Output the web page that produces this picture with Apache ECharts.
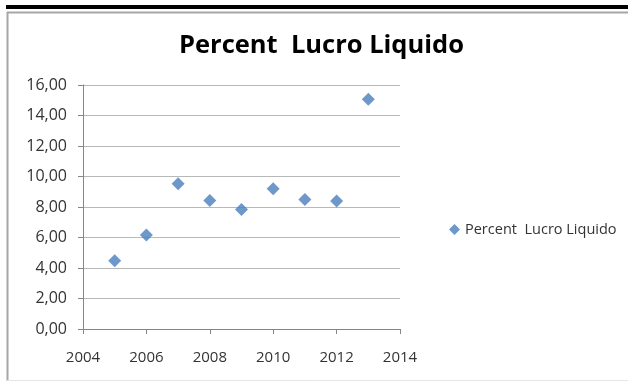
<!DOCTYPE html>
<html>
<head>
<meta charset="utf-8">
<script src="https://cdn.jsdelivr.net/npm/echarts@6/dist/echarts.min.js"></script>
<style>html,body{margin:0;padding:0;background:#fff}#c{width:628px;height:381px}</style>
</head>
<body>
<div id="c"></div>
<script>
const titleText = 'Percent  Lucro Liquido';
const seriesName = 'Percent  Lucro Liquido';
const years = [2005, 2006, 2007, 2008, 2009, 2010, 2011, 2012, 2013];
const values = [4.48, 6.16, 9.53, 8.42, 7.83, 9.20, 8.50, 8.39, 15.06];

const chart = echarts.init(document.getElementById('c'), null, {renderer: 'canvas'});
const font = 'Open Sans';
chart.setOption({
  animation: false,
  backgroundColor: '#fff',
  title: {
    text: titleText, left: 174, top: 28,
    textStyle: {fontFamily: font, fontSize: 25.5, fontWeight: 'bold', color: '#000'}
  },
  legend: {
    left: 444, top: 217, itemWidth: 11, itemHeight: 11, itemGap: 4,
    icon: 'diamond',
    textStyle: {fontFamily: font, fontSize: 14.5, color: '#333'},
    data: [seriesName]
  },
  graphic: [
    {type: 'rect', shape: {x: 6, y: 5, width: 622, height: 4}, style: {fill: '#000'}, silent: true},
    {type: 'line', shape: {x1: 7, y1: 12.5, x2: 628, y2: 12.5}, style: {stroke: '#a6a6a6', lineWidth: 2}, silent: true},
    {type: 'line', shape: {x1: 7.5, y1: 12, x2: 7.5, y2: 381}, style: {stroke: '#a6a6a6', lineWidth: 2}, silent: true},
    {type: 'line', shape: {x1: 7, y1: 380.5, x2: 628, y2: 380.5}, style: {stroke: '#e6e6e6', lineWidth: 1}, silent: true}
  ],
  grid: {left: 83, right: 228, top: 85, bottom: 52},
  xAxis: {
    type: 'value', min: 2004, max: 2014, interval: 2,
    axisLine: {show: true, lineStyle: {color: '#868686'}},
    axisTick: {show: true, length: 5, lineStyle: {color: '#868686'}},
    splitLine: {show: false},
    axisLabel: {fontFamily: font, fontSize: 15, color: '#333', margin: 21,
      formatter: v => String(v)}
  },
  yAxis: {
    type: 'value', min: 0, max: 16, interval: 2,
    axisLine: {show: true, lineStyle: {color: '#868686'}},
    axisTick: {show: true, length: 5, inside: false, lineStyle: {color: '#868686'}},
    splitLine: {show: true, lineStyle: {color: '#b8b8b8'}},
    axisLabel: {fontFamily: font, fontSize: 16, color: '#333', margin: 16,
      formatter: v => v.toFixed(2).replace('.', ',')}
  },
  series: [{
    name: seriesName, type: 'scatter', symbol: 'diamond', symbolSize: 13,
    itemStyle: {color: '#4a7ebb'},
    data: years.map((y, i) => [y, values[i]])
  }]
});
</script>
</body>
</html>
